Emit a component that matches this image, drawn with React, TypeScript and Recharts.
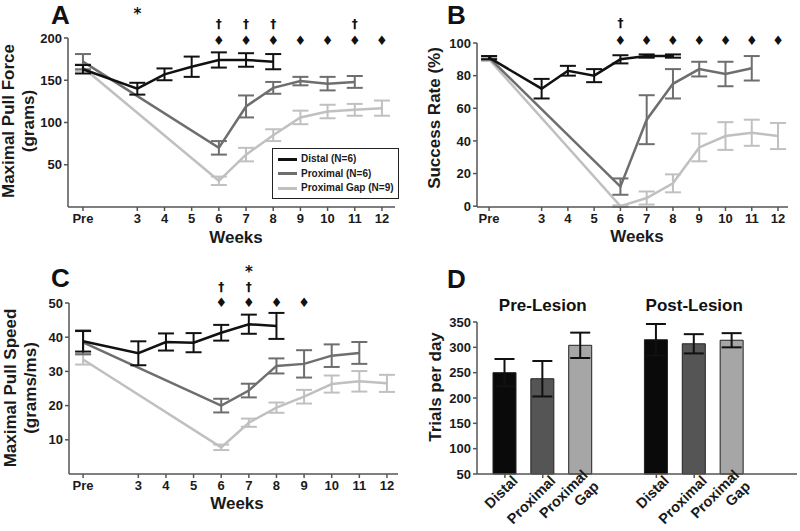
import React from 'react'
import {
  LineChart,
  Line,
  XAxis,
  YAxis,
  ErrorBar,
  ReferenceDot,
  Legend,
  Label,
  BarChart,
  Bar,
  Cell,
} from 'recharts'

const FONT = '"Liberation Sans", Arial, sans-serif'
const GLYPH_FONT = '"DejaVu Sans", "Liberation Sans", sans-serif'
const DISTAL = '#111111'
const PROXIMAL = '#6e6e6e'
const GAP = '#c0c0c0'
const AXIS = '#555555'

// week 1 stands for "Pre"
const weekTicks = [1, 3, 4, 5, 6, 7, 8, 9, 10, 11, 12]
const distalWeeks = [1, 3, 4, 5, 6, 7, 8]
const proximalWeeks = [1, 6, 7, 8, 9, 10, 11]
const gapWeeks = [1, 6, 7, 8, 9, 10, 11, 12]

// A: maximal pull force (grams)
const forceDistal = [163, 140, 157, 166, 174, 174, 172]
const forceDistalErr = [5, 7, 7, 12, 9, 8, 9]
const forceProximal = [172, 70, 119, 141, 149, 146, 148]
const forceProximalErr = [9, 8, 13, 7, 5, 8, 7]
const forceGap = [165, 31, 62, 85, 106, 113, 115, 117]
const forceGapErr = [4, 5, 8, 7, 8, 8, 7, 9]

// B: success rate (%)
const successDistal = [91, 72, 83, 80, 90, 92, 92]
const successDistalErr = [1, 6, 3, 4, 2.5, 1, 1]
const successProximal = [91, 12, 53, 75, 84, 81, 84.5]
const successProximalErr = [1, 5, 15, 9, 4.5, 7.5, 7.5]
const successGap = [90, 0, 5, 14, 36, 43, 45, 43]
const successGapErr = [1, 0.5, 4, 5.5, 8.5, 8.5, 8, 8]

// C: maximal pull speed (grams/ms)
const speedDistal = [38.8, 35.3, 38.6, 38.4, 41.3, 43.8, 43.3]
const speedDistalErr = [3, 3.5, 2.5, 2.8, 2.3, 2.8, 3.8]
const speedProximal = [38.5, 20, 24.4, 31.6, 32.2, 34.6, 35.4]
const speedProximalErr = [3.5, 2, 2, 2.2, 4, 3.3, 3.2]
const speedGap = [33.5, 7.8, 15, 19.4, 22.6, 26.3, 27.1, 26.5]
const speedGapErr = [1.5, 0.8, 1.2, 1.5, 2, 2.5, 3, 2.5]

// significance markers (weeks)
const forceStar = [3]
const forceDagger = [6, 7, 8, 11]
const forceDiamond = [6, 7, 8, 9, 10, 11, 12]
const successDagger = [6]
const successDiamond = [6, 7, 8, 9, 10, 11, 12]
const speedStar = [7]
const speedDagger = [6, 7]
const speedDiamond = [6, 7, 8, 9]

// D: trials per day
const trialIds = ['pre-d', 'pre-p', 'pre-g', 'gap', 'post-d', 'post-p', 'post-g']
const trialNames = ['Distal', 'Proximal', 'Proximal Gap', '', 'Distal', 'Proximal', 'Proximal Gap']
const trialValues = [250, 238, 304, null, 315, 307, 314]
const trialErr = [27, 35, 25, null, 31, 19, 14]
const trialGroups = ['Pre-Lesion', 'Post-Lesion']
const trialGroupCenters = ['pre-p', 'post-p']

const legendItems = [
  { label: 'Distal (N=6)', color: DISTAL },
  { label: 'Proximal (N=6)', color: PROXIMAL },
  { label: 'Proximal Gap (N=9)', color: GAP },
]

const rows = (weeks: number[], values: number[], errs: number[]) =>
  weeks.map((week, i) => ({ week, value: values[i], err: errs[i] }))

const weekLabel = (w: number) => (w === 1 ? 'Pre' : String(w))

const glyph = (text: string, dy: number, size: number, family = GLYPH_FONT) => (props: any) => (
  <text
    x={props.cx}
    y={props.cy + dy}
    textAnchor="middle"
    dominantBaseline="central"
    fontSize={size}
    fontWeight="bold"
    fontFamily={family}
    fill="#111"
  >
    {text}
  </text>
)

const title = (lines: string[], x: number, y: number, rotate: boolean, size = 17) => () => (
  <text
    x={x}
    y={y}
    transform={rotate ? `rotate(-90, ${x}, ${y})` : undefined}
    textAnchor="middle"
    fontSize={size}
    fontWeight="bold"
    fontFamily={FONT}
    fill="#1a1a1a"
  >
    {lines.map((l, i) => (
      <tspan key={i} x={x} dy={i === 0 ? `${0.35 - (lines.length - 1) * 0.6}em` : '1.2em'}>
        {l}
      </tspan>
    ))}
  </text>
)

const LegendBox = () => (
  <div
    style={{
      border: '1px solid #222',
      background: '#fff',
      padding: '3px 4px 2px 5px',
      fontFamily: FONT,
      fontWeight: 'bold',
      fontSize: 10,
      color: '#1a1a1a',
      lineHeight: '14.5px',
      whiteSpace: 'nowrap',
    }}
  >
    {legendItems.map((it) => (
      <div key={it.label} style={{ display: 'flex', alignItems: 'center' }}>
        <span style={{ width: 19, height: 3, background: it.color, marginRight: 4 }} />
        {it.label}
      </div>
    ))}
  </div>
)

interface SeriesDef {
  data: { week: number; value: number; err: number }[]
  color: string
  name: string
}

interface Marker {
  weeks: number[]
  text: string
  dy: number
  size: number
}

interface PanelProps {
  left: number
  top: number
  width: number
  height: number
  marginTop: number
  marginRight: number
  yWidth: number
  xHeight: number
  xDomain: [number, number]
  yDomain: [number, number]
  yTicks: number[]
  series: SeriesDef[]
  markers: Marker[]
  yTitle: string[]
  yTitleX: number
  yTitleY: number
  weeksX: number
  weeksY: number
  letter: string
  letterLeft: number
  letterTop: number
  legend?: boolean
}

function LinePanel(p: PanelProps) {
  const tickStyle = { fontSize: 13, fontWeight: 'bold', fill: '#1a1a1a', fontFamily: FONT }
  return (
    <div style={{ position: 'absolute', left: p.left, top: p.top }}>
      <LineChart
        width={p.width}
        height={p.height}
        margin={{ top: p.marginTop, right: p.marginRight, bottom: 0, left: 0 }}
      >
        <XAxis
          type="number"
          dataKey="week"
          domain={p.xDomain}
          ticks={weekTicks}
          tickFormatter={weekLabel}
          interval={0}
          allowDuplicatedCategory={false}
          height={p.xHeight}
          tick={tickStyle}
          tickSize={4}
          tickMargin={3}
          stroke={AXIS}
          strokeWidth={1.5}
        >
          <Label content={title(['Weeks'], p.weeksX, p.weeksY, false)} />
        </XAxis>
        <YAxis
          type="number"
          domain={p.yDomain}
          ticks={p.yTicks}
          width={p.yWidth}
          tick={tickStyle}
          tickSize={4}
          tickMargin={2}
          stroke={AXIS}
          strokeWidth={1.5}
        >
          <Label content={title(p.yTitle, p.yTitleX, p.yTitleY, true)} />
        </YAxis>
        {p.series.map((s) => (
          <Line
            key={s.name}
            data={s.data}
            dataKey="value"
            name={s.name}
            stroke={s.color}
            strokeWidth={2.5}
            dot={false}
            isAnimationActive={false}
          >
            <ErrorBar dataKey="err" width={8} stroke={s.color} strokeWidth={2} direction="y" />
          </Line>
        ))}
        {p.markers.flatMap((m) =>
          m.weeks.map((w) => (
            <ReferenceDot
              key={m.text + w}
              x={w}
              y={p.yDomain[1]}
              ifOverflow="visible"
              shape={glyph(m.text, m.dy, m.size)}
            />
          )),
        )}
        {p.legend && (
          <Legend
            layout="vertical"
            align="center"
            verticalAlign="middle"
            content={LegendBox}
            wrapperStyle={{ left: 272, top: 148, width: 'auto' }}
          />
        )}
      </LineChart>
      <div
        style={{
          position: 'absolute',
          left: p.letterLeft,
          top: p.letterTop,
          fontFamily: FONT,
          fontWeight: 'bold',
          fontSize: 26,
          color: '#111',
        }}
      >
        {p.letter}
      </div>
    </div>
  )
}

const trialData = trialIds.map((id, i) => ({
  id,
  name: trialNames[i],
  value: trialValues[i],
  err: trialErr[i],
}))
const barColors = ['#0a0a0a', '#555555', '#a6a6a6', '#ffffff', '#0a0a0a', '#555555', '#a6a6a6']

const RotatedTick = (props: any) => {
  const { x, y, payload } = props
  const name = trialNames[trialIds.indexOf(payload.value)] || ''
  if (!name) return null
  const lines = name.split(' ')
  const ax = x + 10
  const ay = y - 2
  return (
    <text
      x={ax}
      y={ay}
      transform={`rotate(-45, ${ax}, ${ay})`}
      textAnchor="end"
      fontSize={14.5}
      fontWeight="bold"
      fontFamily={FONT}
      fill="#1a1a1a"
    >
      {lines.map((l, i) => (
        <tspan key={i} x={ax} dy={i === 0 ? `${0.35 - (lines.length - 1) * 0.55}em` : '1.1em'}>
          {l}
        </tspan>
      ))}
    </text>
  )
}

function BarPanel() {
  return (
    <div style={{ position: 'absolute', left: 400, top: 250 }}>
      <BarChart
        width={400}
        height={281}
        data={trialData}
        margin={{ top: 72, right: 3, bottom: 0, left: 0 }}
        barSize={23}
      >
        <XAxis
          dataKey="id"
          interval={0}
          ticks={trialIds.filter((id) => id !== 'gap')}
          height={57}
          padding={{ left: 9, right: 46 }}
          tick={<RotatedTick />}
          tickSize={4}
          stroke={AXIS}
          strokeWidth={1.5}
        />
        <YAxis
          type="number"
          domain={[50, 350]}
          ticks={[50, 100, 150, 200, 250, 300, 350]}
          width={77}
          tick={{ fontSize: 13, fontWeight: 'bold', fill: '#1a1a1a', fontFamily: FONT }}
          tickSize={4}
          tickMargin={2}
          stroke={AXIS}
          strokeWidth={1.5}
        >
          <Label content={title(['Trials per day'], 35, 137, true)} />
        </YAxis>
        <Bar dataKey="value" stroke="#222" strokeWidth={1} isAnimationActive={false}>
          {trialData.map((d, i) => (
            <Cell key={d.id} fill={barColors[i]} />
          ))}
          <ErrorBar dataKey="err" width={10} stroke="#111" strokeWidth={2} direction="y" />
        </Bar>
        {trialGroups.map((g, i) => (
          <ReferenceDot
            key={g}
            x={trialGroupCenters[i]}
            y={350}
            ifOverflow="visible"
            shape={glyph(g, -17, 17, FONT)}
          />
        ))}
      </BarChart>
      <div
        style={{
          position: 'absolute',
          left: 47,
          top: 14,
          fontFamily: FONT,
          fontWeight: 'bold',
          fontSize: 26,
          color: '#111',
        }}
      >
        D
      </div>
    </div>
  )
}

export default function App() {
  return (
    <div
      style={{
        position: 'absolute',
        left: 0,
        top: 0,
        width: 800,
        height: 531,
        background: '#fff',
        overflow: 'hidden',
      }}
    >
      <LinePanel
        left={0}
        top={0}
        width={400}
        height={250}
        marginTop={38}
        marginRight={5}
        yWidth={68}
        xHeight={43}
        xDomain={[0.45, 12.48]}
        yDomain={[0, 200]}
        yTicks={[50, 100, 150, 200]}
        series={[
          { name: 'Proximal Gap', color: GAP, data: rows(gapWeeks, forceGap, forceGapErr) },
          { name: 'Proximal', color: PROXIMAL, data: rows(proximalWeeks, forceProximal, forceProximalErr) },
          { name: 'Distal', color: DISTAL, data: rows(distalWeeks, forceDistal, forceDistalErr) },
        ]}
        markers={[
          { weeks: forceStar, text: '*', dy: -24, size: 15 },
          { weeks: forceDagger, text: '†', dy: -14, size: 12 },
          { weeks: forceDiamond, text: '♦', dy: 2, size: 13 },
        ]}
        yTitle={['Maximal Pull Force', '(grams)']}
        yTitleX={18}
        yTitleY={121}
        weeksX={236}
        weeksY={237}
        letter="A"
        letterLeft={51}
        letterTop={0}
        legend
      />
      <LinePanel
        left={400}
        top={0}
        width={400}
        height={250}
        marginTop={43}
        marginRight={12}
        yWidth={77}
        xHeight={43}
        xDomain={[0.54, 12.38]}
        yDomain={[0, 100]}
        yTicks={[0, 20, 40, 60, 80, 100]}
        series={[
          { name: 'Proximal Gap', color: GAP, data: rows(gapWeeks, successGap, successGapErr) },
          { name: 'Proximal', color: PROXIMAL, data: rows(proximalWeeks, successProximal, successProximalErr) },
          { name: 'Distal', color: DISTAL, data: rows(distalWeeks, successDistal, successDistalErr) },
        ]}
        markers={[
          { weeks: successDagger, text: '†', dy: -20, size: 12 },
          { weeks: successDiamond, text: '♦', dy: -2.5, size: 13 },
        ]}
        yTitle={['Success Rate (%)']}
        yTitleX={34}
        yTitleY={118}
        weeksX={237}
        weeksY={236}
        letter="B"
        letterLeft={47}
        letterTop={0}
      />
      <LinePanel
        left={0}
        top={250}
        width={400}
        height={281}
        marginTop={53}
        marginRight={2}
        yWidth={69}
        xHeight={57}
        xDomain={[0.49, 12.4]}
        yDomain={[0, 50]}
        yTicks={[10, 20, 30, 40, 50]}
        series={[
          { name: 'Proximal Gap', color: GAP, data: rows(gapWeeks, speedGap, speedGapErr) },
          { name: 'Proximal', color: PROXIMAL, data: rows(proximalWeeks, speedProximal, speedProximalErr) },
          { name: 'Distal', color: DISTAL, data: rows(distalWeeks, speedDistal, speedDistalErr) },
        ]}
        markers={[
          { weeks: speedStar, text: '*', dy: -31, size: 15 },
          { weeks: speedDagger, text: '†', dy: -16, size: 12 },
          { weeks: speedDiamond, text: '♦', dy: -1, size: 13 },
        ]}
        yTitle={['Maximal Pull Speed', '(grams/ms)']}
        yTitleX={20}
        yTitleY={138}
        weeksX={237}
        weeksY={253}
        letter="C"
        letterLeft={51}
        letterTop={13}
      />
      <BarPanel />
    </div>
  )
}
